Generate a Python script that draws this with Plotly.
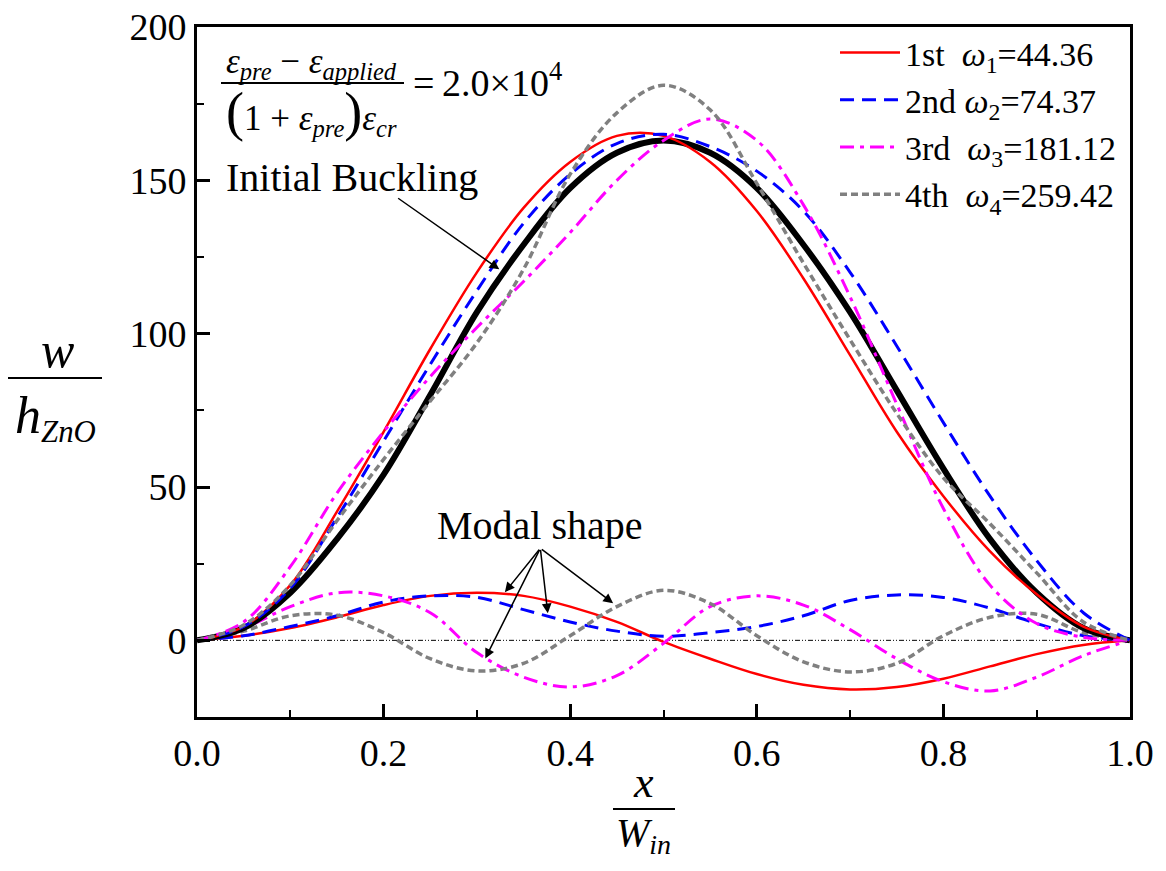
import plotly.graph_objects as go

# ---------------- data ----------------
x_pos = [0.00, 0.05, 0.10, 0.15, 0.20, 0.25, 0.30, 0.35, 0.40, 0.45, 0.50,
         0.55, 0.60, 0.65, 0.70, 0.75, 0.80, 0.85, 0.90, 0.95, 1.00]

initial_buckling = [0, 4, 15.5, 33, 54, 80, 107, 129, 147.5, 159, 163,
                    159, 147.5, 129, 107, 81.5, 56, 33, 15.5, 4, 0]

mode1_total = [0, 4.5, 18, 42, 68, 95, 120, 141, 156, 164.5, 164.5,
               156, 140, 118, 93, 68, 47, 29, 15, 4.5, 0]
mode2_total = [0, 4.5, 17, 40, 65, 90, 114, 136, 152, 162, 165,
               161, 153, 140, 120, 96, 71, 47, 26, 9, 0]
mode3_total = [0, 6, 24, 48, 68, 86, 102, 117, 133, 150, 163,
               170, 163, 142, 112, 77, 43, 18, 5.5, 1, 0]
mode4_total = [0, 5, 18, 39, 59, 78, 97, 121, 152, 172, 181,
               173, 149, 123, 98, 74, 53, 38, 22, 6, 0]

mode1_shape = [0, 1.5, 4, 7.5, 11.5, 14.5, 15.5, 14.5, 11, 6, -0.5,
               -6, -11, -14.5, -16, -15.2, -12.5, -8.5, -4.5, -1.5, 0]
mode2_shape = [0, 1.5, 4.5, 8, 12.5, 14.5, 14, 10, 6, 3, 1.3,
               2.5, 4.5, 8, 13, 14.8, 14, 10.5, 5.5, 1.5, 0]
mode3_shape = [0, 4, 11, 15.5, 14.5, 9, -4, -12, -15.2, -11.5, -1,
               11, 14.5, 11.5, 3.5, -6, -13.5, -16.5, -12, -5, 0]
mode4_shape = [0, 3, 8, 8.2, 2.5, -6, -10, -7.5, 1.5, 11, 16.3,
               12, 1.5, -7, -10.3, -7.5, 1.5, 7.5, 8.5, 2.5, 0]

zero_x = [0.0, 1.0]
zero_y = [0, 0]

legend_names = ["1st\u00a0\u00a0<i>ω</i><sub>1</sub>=44.36",
                "2nd\u00a0<i>ω</i><sub>2</sub>=74.37",
                "3rd\u00a0\u00a0<i>ω</i><sub>3</sub>=181.12",
                "4th\u00a0\u00a0<i>ω</i><sub>4</sub>=259.42"]

x_ticks = [0.0, 0.2, 0.4, 0.6, 0.8, 1.0]
y_ticks = [0, 50, 100, 150, 200]

# ---------------- styles ----------------
FONT = "Liberation Serif, Times New Roman, serif"
styles = [
    dict(color="#ff0000", width=2.5, dash="solid"),
    dict(color="#0000ff", width=3, dash="14px,8px"),
    dict(color="#ff00ff", width=3, dash="14px,6px,4px,6px"),
    dict(color="#808080", width=3.5, dash="7px,4px"),
]

fig = go.Figure()

fig.add_trace(go.Scatter(x=zero_x, y=zero_y, mode="lines", showlegend=False,
                         line=dict(color="black", width=1,
                                   dash="5px,2px,1px,2px,1px,2px"),
                         hoverinfo="skip"))

for ys, st in zip([mode1_shape, mode2_shape, mode3_shape, mode4_shape], styles):
    fig.add_trace(go.Scatter(x=x_pos, y=ys, mode="lines", showlegend=False,
                             line=dict(shape="spline", smoothing=1, **st)))

fig.add_trace(go.Scatter(x=x_pos, y=initial_buckling, mode="lines", showlegend=False,
                         line=dict(color="black", width=6, shape="spline", smoothing=1)))

for ys, st, nm in zip([mode1_total, mode2_total, mode3_total, mode4_total], styles, legend_names):
    fig.add_trace(go.Scatter(x=x_pos, y=ys, mode="lines", name=nm,
                             line=dict(shape="spline", smoothing=1, **st)))

# ---------------- layout ----------------
# the page body has an 8px margin, so the figure is drawn 8px in from the corner
OFF = 8
W, H = 1150, 855
PL, PR, PT, PB = 197, 1130, 27, 717          # plot area in screenshot pixels
L, R, T, B = PL - OFF, W - (PR - OFF), PT - OFF, H - (PB - OFF)


def px_x(p):
    return (p - PL) / (PR - PL)


def px_y(p):
    return (PB - p) / (PB - PT)


fig.update_layout(
    width=W, height=H,
    margin=dict(l=L, r=R, t=T, b=B),
    paper_bgcolor="white", plot_bgcolor="white",
    font=dict(family=FONT, color="black", size=38),
    legend=dict(x=px_x(835), y=px_y(24), xanchor="left", yanchor="top",
                bgcolor="rgba(0,0,0,0)", borderwidth=0,
                font=dict(family=FONT, size=34, color="black"),
                traceorder="normal", itemwidth=60, tracegroupgap=0),
    showlegend=True,
)

fig.update_xaxes(range=[0, 1], tickvals=x_ticks, tickformat=".1f", automargin=False,
                 ticklabeloverflow="allow",
                 showline=True, linewidth=3, linecolor="black", mirror=True,
                 ticks="inside", ticklen=13, tickwidth=3, tickcolor="black",
                 minor=dict(dtick=0.1, ticks="inside", ticklen=7, tickwidth=2,
                            tickcolor="black", showgrid=False),
                 showgrid=False, zeroline=False,
                 tickfont=dict(family=FONT, size=38, color="black"))
fig.update_yaxes(range=[-25, 200], tickvals=y_ticks, automargin=False,
                 ticklabeloverflow="allow",
                 showline=True, linewidth=3, linecolor="black", mirror=True,
                 ticks="inside", ticklen=13, tickwidth=3, tickcolor="black",
                 minor=dict(dtick=25, tick0=0, ticks="inside", ticklen=7, tickwidth=2,
                            tickcolor="black", showgrid=False),
                 showgrid=False, zeroline=False,
                 tickfont=dict(family=FONT, size=38, color="black"))

ann = []
shapes = []

# y-axis title as a fraction: w / h_ZnO
ann.append(dict(xref="paper", yref="paper", x=px_x(57), y=px_y(350), showarrow=False,
                text="<i>w</i>", font=dict(size=50, family=FONT), xanchor="center", yanchor="middle"))
shapes.append(dict(type="line", xref="paper", yref="paper", x0=px_x(8), x1=px_x(102),
                   y0=px_y(378), y1=px_y(378), line=dict(color="black", width=2)))
ann.append(dict(xref="paper", yref="paper", x=px_x(55), y=px_y(418), showarrow=False,
                text="<i>h</i><span style='font-size:44px'><sub><i>ZnO</i></sub></span>",
                font=dict(size=52, family=FONT), xanchor="center", yanchor="middle"))

# x-axis title as a fraction: x / W_in
ann.append(dict(xref="paper", yref="paper", x=px_x(643), y=px_y(782), showarrow=False,
                text="<i>x</i>", font=dict(size=44, family=FONT), xanchor="center", yanchor="middle"))
shapes.append(dict(type="line", xref="paper", yref="paper", x0=px_x(613), x1=px_x(675),
                   y0=px_y(809), y1=px_y(809), line=dict(color="black", width=2)))
ann.append(dict(xref="paper", yref="paper", x=px_x(643), y=px_y(835), showarrow=False,
                text="<i>W</i><sub><i>in</i></sub>", font=dict(size=40, family=FONT),
                xanchor="center", yanchor="middle"))

# formula
ann.append(dict(xref="paper", yref="paper", x=px_x(311), y=px_y(63), showarrow=False,
                text="<i>ε</i><sub><i>pre</i></sub> − <i>ε</i><sub><i>applied</i></sub>",
                font=dict(size=35, family=FONT), xanchor="center", yanchor="middle"))
shapes.append(dict(type="line", xref="paper", yref="paper", x0=px_x(221), x1=px_x(404),
                   y0=px_y(83), y1=px_y(83), line=dict(color="black", width=2)))
ann.append(dict(xref="paper", yref="paper", x=px_x(311), y=px_y(112), showarrow=False,
                text="<span style='font-size:54px'>(</span>1 + <i>ε</i><sub><i>pre</i></sub><span style='font-size:54px'>)</span><i>ε</i><sub><i>cr</i></sub>",
                font=dict(size=35, family=FONT), xanchor="center", yanchor="middle"))
ann.append(dict(xref="paper", yref="paper", x=px_x(411), y=px_y(80), showarrow=False,
                text="=\u20092.0×10<sup>4</sup>",
                font=dict(size=38, family=FONT), xanchor="left", yanchor="middle"))

# Initial buckling label + arrow
ann.append(dict(xref="x", yref="y", x=px_x(224), y=(640 - 177) / 3.067, showarrow=False,
                text="Initial Buckling", font=dict(size=40, family=FONT),
                xanchor="left", yanchor="middle"))
ann.append(dict(xref="x", yref="y", axref="x", ayref="y",
                x=0.324, y=121, ax=0.214, ay=144.5, text="", showarrow=True,
                arrowhead=2, arrowsize=1.3, arrowwidth=1.5, arrowcolor="black"))

# Modal shape label + arrows
ann.append(dict(xref="x", yref="y", x=0.368, y=37.6, showarrow=False,
                text="Modal shape", font=dict(size=40, family=FONT),
                xanchor="center", yanchor="middle"))
for tx, ty in [(0.330, 15.7), (0.309, -5.9), (0.376, 8.8), (0.446, 12.1)]:
    ann.append(dict(xref="x", yref="y", axref="x", ayref="y",
                    x=tx, y=ty, ax=0.368, ay=30, text="", showarrow=True,
                    arrowhead=2, arrowsize=1.3, arrowwidth=1.5, arrowcolor="black"))

fig.update_layout(annotations=ann, shapes=shapes)

fig.write_html("out.html")
